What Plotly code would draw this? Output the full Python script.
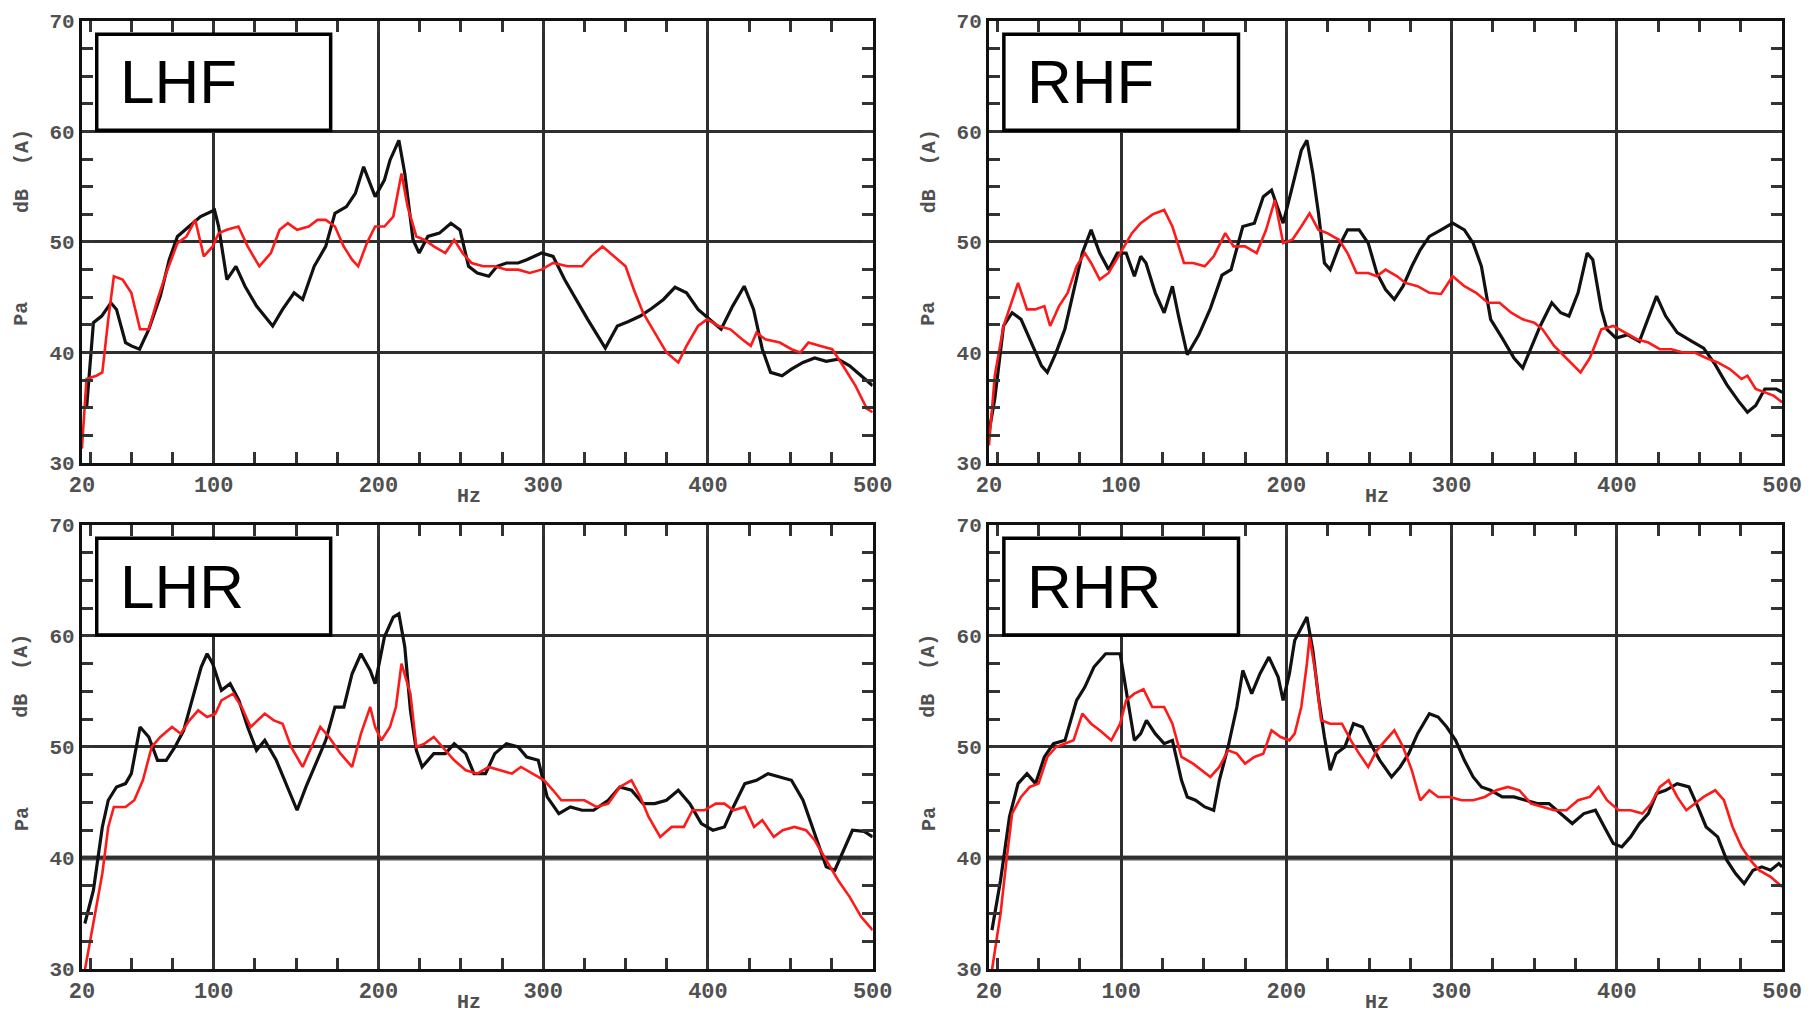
import plotly.graph_objects as go

# ---------------- data ----------------
LHF_black_hz = [22.8, 27, 32, 37.6, 41, 46.5, 50, 55, 60.6, 67.6, 73, 78, 85, 92, 100.5, 103, 108, 113.5, 119, 126, 135.8, 141.8, 148.8, 154, 161, 168, 173.6, 180.6, 186, 191, 198, 203.6, 207, 212.4, 216, 221, 224.7, 230, 237, 244, 249.5, 254.7, 260, 267, 272, 277.7, 284.8, 290, 299, 306, 313, 320, 327, 337.7, 345, 351.8, 358.9, 366, 373, 380, 387, 394, 401, 408, 415, 422, 427.7, 433, 438, 445, 450.7, 457.7, 464.8, 471.8, 479, 486, 493, 500]
LHF_black_db = [34.9, 42.7, 43.3, 44.5, 43.9, 40.9, 40.6, 40.3, 42.1, 45.1, 48.4, 50.5, 51.4, 52.3, 52.9, 51.4, 46.6, 47.8, 46.0, 44.2, 42.4, 43.9, 45.4, 44.8, 47.8, 49.6, 52.6, 53.2, 54.4, 56.8, 54.1, 55.6, 57.4, 59.2, 56.2, 50.2, 49.0, 50.5, 50.8, 51.7, 51.1, 47.8, 47.2, 46.9, 47.8, 48.1, 48.1, 48.4, 49.0, 48.7, 46.6, 44.8, 43.0, 40.4, 42.4, 42.8, 43.3, 44.0, 44.8, 45.9, 45.4, 43.9, 43.0, 42.1, 44.2, 46.0, 43.9, 40.3, 38.2, 37.9, 38.5, 39.1, 39.5, 39.2, 39.4, 38.8, 37.9, 37.0]
LHF_red_hz = [20, 22.8, 28.8, 32.4, 36, 39.4, 44.7, 50, 55.3, 60.6, 65.9, 71.2, 78, 83.5, 88.8, 94, 99.4, 103, 108, 115, 120.6, 127.7, 134.7, 140, 145, 150.6, 157.7, 163, 168, 173.6, 178.9, 184, 187.7, 193, 198, 203.6, 209, 214, 217.7, 223, 228, 233.6, 240.6, 246, 251, 256.5, 263.6, 270.6, 277.7, 284.8, 291.8, 299, 306, 314.8, 323.6, 329, 336, 343, 350, 355, 360.6, 367.7, 374.8, 382, 387, 394, 399.5, 406.5, 413.6, 420.7, 426, 429.5, 434.8, 443.6, 450.7, 456, 461, 468.3, 475.4, 482, 489.5, 496.5, 500]
LHF_red_db = [31.3, 37.6, 37.9, 38.2, 43.0, 46.9, 46.6, 45.4, 42.1, 42.1, 44.8, 47.2, 49.9, 50.5, 52.0, 48.7, 49.6, 50.8, 51.1, 51.4, 49.6, 47.8, 49.0, 51.1, 51.7, 51.1, 51.4, 52.0, 52.0, 51.4, 49.6, 48.4, 47.8, 49.9, 51.4, 51.4, 52.3, 56.2, 53.2, 50.5, 50.2, 49.6, 49.0, 50.2, 49.0, 48.1, 47.8, 47.8, 47.5, 47.5, 47.2, 47.5, 48.1, 47.8, 47.8, 48.7, 49.6, 48.7, 47.8, 45.7, 43.6, 41.8, 40.0, 39.1, 40.6, 42.4, 43.0, 42.4, 42.1, 41.2, 40.6, 41.8, 41.2, 40.9, 40.3, 40.0, 40.9, 40.6, 40.3, 38.8, 37.0, 34.9, 34.6]

RHF_black_hz = [20, 23.5, 28.8, 34, 39.4, 46.5, 51.8, 55.3, 60.6, 65.9, 71, 76.5, 81.8, 87, 92.4, 97.7, 103, 108, 111.8, 115, 120.6, 126, 131, 134.7, 140, 147, 154, 161, 166.5, 173.6, 180.6, 186, 191, 198, 203.6, 209, 212.4, 216, 219.4, 223, 226.5, 231.8, 237, 244, 249.5, 254.7, 260, 265.3, 270.6, 275.9, 281, 286.5, 293.6, 300.6, 307.7, 313, 318, 323.6, 330.6, 337.7, 343, 348, 353.6, 360.6, 366, 371, 376.5, 382, 385.4, 390.6, 394, 399.5, 406.5, 413.6, 418.9, 424, 429.5, 436.5, 445.4, 452.5, 459.5, 466.5, 473.6, 479, 484, 489.5, 496.5, 500]
RHF_black_db = [32.8, 35.8, 42.4, 43.6, 43.0, 40.6, 38.8, 38.2, 40.0, 42.1, 45.4, 49.0, 51.1, 49.0, 47.5, 49.0, 49.0, 46.9, 48.7, 48.1, 45.4, 43.6, 46.0, 43.3, 39.8, 41.6, 44.0, 47.0, 47.5, 51.4, 51.7, 54.1, 54.7, 51.7, 55.0, 58.3, 59.2, 56.2, 52.6, 48.1, 47.5, 49.6, 51.1, 51.1, 49.9, 47.2, 45.7, 44.8, 46.0, 47.8, 49.3, 50.5, 51.1, 51.7, 51.1, 49.9, 47.8, 43.0, 41.3, 39.5, 38.6, 40.4, 42.4, 44.5, 43.6, 43.3, 45.4, 49.0, 48.4, 43.9, 42.1, 41.3, 41.6, 41.0, 43.0, 45.1, 43.3, 41.8, 41.0, 40.4, 38.9, 37.1, 35.6, 34.6, 35.2, 36.7, 36.7, 36.4]
RHF_red_hz = [20, 23.5, 28.8, 34, 37.6, 43, 48, 53.5, 57, 62.4, 67.6, 73, 78, 81.8, 87, 92.4, 99.4, 106.5, 111.8, 119, 126, 131, 138, 143.5, 150.6, 156, 163, 168, 175, 182, 187.7, 193, 198, 203.6, 209, 214, 219.4, 224.7, 231.8, 237, 242.4, 249.5, 254.7, 260, 267, 272, 279.4, 286.5, 293.6, 300.6, 307.7, 314.8, 322, 329, 336, 343, 350, 355, 362, 369.4, 378, 383.6, 390.6, 397.8, 404.8, 412, 419, 426, 433, 440, 447, 454, 461, 468.3, 475.4, 479, 484, 489.5, 494.8, 500]
RHF_red_db = [31.6, 37.9, 42.4, 44.8, 46.3, 43.9, 43.9, 44.2, 42.4, 44.2, 45.4, 47.8, 49.0, 48.1, 46.6, 47.2, 49.0, 50.8, 51.7, 52.5, 52.9, 51.4, 48.1, 48.1, 47.8, 48.7, 50.8, 49.6, 49.6, 49.0, 51.1, 53.8, 49.9, 50.2, 51.4, 52.6, 51.1, 50.8, 50.2, 49.0, 47.2, 47.2, 46.9, 47.5, 46.9, 46.3, 46.0, 45.4, 45.3, 46.9, 46.0, 45.4, 44.5, 44.5, 43.6, 43.0, 42.7, 42.1, 40.6, 39.5, 38.2, 39.5, 42.1, 42.4, 41.8, 41.2, 40.9, 40.3, 40.3, 40.0, 40.0, 39.5, 39.1, 38.5, 37.6, 37.9, 36.7, 36.4, 36.1, 35.5]

LHR_black_hz = [21.8, 27, 32.4, 36, 41, 46.5, 50, 55.3, 60.6, 65.9, 71.2, 76.5, 81.8, 87, 92.4, 96, 99.4, 104.7, 110, 115.3, 120.6, 126, 131, 138, 145, 150.6, 156, 163, 168, 173.6, 179, 184, 189.4, 195, 198, 203.6, 209, 212.4, 216, 219.4, 223, 226.5, 233.6, 240.6, 246, 253, 258, 265, 270.6, 277.7, 284.8, 290, 297, 302.4, 309.5, 316.5, 323.6, 330.6, 339.5, 346.5, 353.6, 360.6, 367.7, 374.8, 382, 389, 396, 403, 410, 415.4, 422.4, 429.5, 436.5, 443.6, 450.7, 457.7, 464.8, 471.8, 477, 482.4, 487.7, 494.8, 500]
LHR_black_db = [34.1, 37.1, 42.8, 45.2, 46.4, 46.7, 47.6, 51.8, 50.9, 48.8, 48.8, 50.0, 51.5, 54.2, 57.2, 58.4, 57.5, 55.1, 55.7, 54.2, 51.8, 49.7, 50.6, 48.8, 46.4, 44.3, 46.4, 48.8, 50.6, 53.6, 53.6, 56.6, 58.4, 56.9, 55.7, 59.9, 61.7, 62.0, 59.0, 53.3, 49.7, 48.2, 49.4, 49.4, 50.3, 49.4, 47.6, 47.6, 49.4, 50.3, 50.0, 49.1, 48.8, 45.5, 44.0, 44.6, 44.3, 44.3, 45.2, 46.4, 46.1, 44.9, 44.9, 45.2, 46.1, 44.9, 43.1, 42.5, 42.8, 44.6, 46.7, 47.0, 47.6, 47.3, 47.0, 45.2, 42.2, 39.2, 38.9, 40.7, 42.5, 42.4, 41.9]
LHR_red_hz = [21.8, 27, 32.4, 36, 39.4, 46.5, 51.8, 57, 62.4, 67.6, 74.7, 80, 85.3, 90.6, 96, 101, 104.7, 111.8, 117, 122.4, 131, 136.5, 141.8, 147, 154, 159.4, 164.7, 170, 177, 184, 189.4, 195, 198, 201.8, 207, 210.6, 214, 219.4, 223, 228, 233.6, 238.9, 246, 253, 260, 267, 274, 281, 286.5, 293.6, 300.6, 306, 311, 318, 325, 332.4, 339.5, 346.5, 353.6, 359, 364, 371, 378, 385.4, 390.6, 397.8, 404.8, 410, 415.4, 422.4, 428, 433, 440, 445.4, 452.5, 459.5, 464.8, 471.8, 479, 486, 493, 500]
LHR_red_db = [29.9, 34.1, 38.6, 42.8, 44.6, 44.6, 45.2, 47.0, 50.0, 50.9, 51.8, 51.2, 52.4, 53.3, 52.7, 53.0, 54.2, 54.8, 53.6, 51.8, 53.0, 52.4, 52.1, 50.0, 48.2, 50.0, 51.8, 50.9, 49.4, 48.2, 51.2, 53.6, 51.8, 50.6, 51.8, 53.6, 57.5, 54.8, 50.0, 50.3, 50.9, 50.0, 48.8, 47.9, 47.6, 48.2, 47.9, 47.6, 48.2, 47.6, 47.0, 46.1, 45.2, 45.2, 45.2, 44.6, 44.9, 46.4, 47.0, 45.5, 43.7, 41.9, 42.8, 42.8, 44.3, 44.3, 44.9, 44.9, 44.3, 44.6, 42.8, 43.4, 41.9, 42.5, 42.8, 42.5, 41.6, 39.8, 38.0, 36.5, 34.7, 33.5]

RHR_black_hz = [21.8, 27, 32.4, 37.6, 43, 48.2, 53.5, 59, 66, 73, 78, 83.5, 90.6, 99.4, 103, 108, 111.8, 115.3, 120.6, 126, 131, 136.5, 140, 145, 150.6, 156, 159.4, 164.7, 170, 173.6, 179, 184, 189.4, 195, 198, 201.8, 205, 209, 212.4, 216, 219.4, 223, 226.5, 230, 235.3, 240.6, 246, 251, 256.5, 263.6, 268.8, 274, 279.4, 286.5, 291.8, 297, 302.4, 307.7, 313, 318, 323.6, 330.6, 337.7, 344.7, 351.8, 358.9, 366, 373, 380, 387, 392.4, 397.8, 403, 408.3, 413.6, 419, 424, 429.5, 436.5, 443.6, 449, 454, 461, 466.5, 471.8, 477, 482.4, 487.7, 493, 498, 500]
RHR_black_db = [33.5, 38.0, 43.7, 46.7, 47.6, 46.7, 49.1, 50.3, 50.6, 54.2, 55.4, 57.2, 58.4, 58.4, 55.1, 50.6, 51.2, 52.4, 51.2, 50.3, 50.6, 47.0, 45.5, 45.2, 44.6, 44.3, 47.0, 50.0, 53.6, 56.9, 54.8, 56.6, 58.1, 56.3, 54.2, 56.6, 59.6, 60.8, 61.7, 58.7, 54.5, 50.9, 47.9, 49.4, 50.0, 52.1, 51.8, 50.3, 48.8, 47.3, 48.2, 49.4, 51.2, 53.0, 52.7, 51.8, 50.6, 48.8, 47.3, 46.4, 46.1, 45.5, 45.5, 45.2, 44.9, 44.9, 44.0, 43.1, 44.0, 44.3, 42.8, 41.3, 41.0, 41.9, 43.1, 44.0, 45.8, 46.1, 46.7, 46.4, 44.6, 42.8, 41.9, 39.8, 38.6, 37.7, 38.9, 39.2, 38.9, 39.5, 39.2]
RHR_red_hz = [21.8, 27, 30.6, 34, 39.4, 44.7, 50, 55.3, 60.6, 66, 71.2, 76.5, 81.8, 87, 94, 99.4, 103, 108, 113.5, 118.8, 126, 131, 136.5, 143.5, 148.8, 154, 159.4, 164.7, 170, 175, 180.6, 186, 191, 196.5, 201.8, 205, 209, 212.4, 214, 217.7, 221, 226.5, 233.6, 239, 244, 249.5, 254.7, 260, 265.3, 270.6, 275.9, 281, 286.5, 291.8, 299, 306, 313, 320, 327, 334, 341, 348, 355, 362, 369.4, 376.5, 383.6, 388.9, 394, 401, 408.3, 415.4, 420.7, 426, 431.3, 436.5, 442, 447, 452.5, 459.5, 464.8, 470, 475.4, 480.8, 486, 493, 500]
RHR_red_db = [29.9, 35.0, 39.8, 44.0, 45.5, 46.4, 46.7, 49.1, 50.0, 50.3, 50.6, 53.0, 52.1, 51.5, 50.6, 52.1, 54.2, 54.8, 55.2, 53.6, 53.6, 52.1, 49.1, 48.5, 47.9, 47.3, 48.2, 49.7, 49.4, 48.5, 49.1, 49.4, 51.5, 50.9, 50.6, 51.2, 53.6, 57.5, 59.9, 56.6, 52.4, 52.1, 52.1, 50.6, 49.4, 48.2, 49.7, 50.6, 51.5, 50.0, 47.9, 45.2, 46.1, 45.5, 45.5, 45.2, 45.2, 45.5, 46.1, 46.4, 46.1, 44.9, 44.6, 44.3, 44.3, 45.2, 45.5, 46.4, 45.2, 44.3, 44.3, 44.0, 44.9, 46.4, 47.0, 45.5, 44.3, 44.9, 45.5, 46.1, 45.2, 42.8, 41.0, 39.8, 38.9, 38.3, 37.4]

panel_names = ["LHF", "RHF", "LHR", "RHR"]
x_ticks = [20, 100, 200, 300, 400, 500]
y_ticks = [30, 40, 50, 60, 70]
x_minor = [25, 50, 75, 125, 150, 175, 225, 250, 275, 325, 350, 375, 425, 450, 475]
y_minor = [32.5, 35, 37.5, 42.5, 45, 47.5, 52.5, 55, 57.5, 62.5, 65, 67.5]
x_title = "Hz"
y_title_upper = "dB  (A)"
y_title_lower = "Pa"

black_series = [(LHF_black_hz, LHF_black_db), (RHF_black_hz, RHF_black_db),
                (LHR_black_hz, LHR_black_db), (RHR_black_hz, RHR_black_db)]
red_series = [(LHF_red_hz, LHF_red_db), (RHF_red_hz, RHF_red_db),
              (LHR_red_hz, LHR_red_db), (RHR_red_hz, RHR_red_db)]

# ---------------- layout ----------------
W, H = 1820, 1017
x_domains = [[0.0450, 0.4795], [0.5434, 0.9792], [0.0450, 0.4795], [0.5434, 0.9792]]
y_domains = [[0.5447, 0.9794], [0.5447, 0.9794], [0.0472, 0.4838], [0.0472, 0.4838]]

label_grey = "#505050"
xtick_font = dict(family="Liberation Mono", size=22, color=label_grey, weight="bold")
ytick_font = dict(family="Liberation Mono", size=21, color=label_grey, weight="bold")
title_font = dict(family="Liberation Mono", size=20, color=label_grey, weight="bold")

fig = go.Figure()
layout = dict(width=W, height=H, autosize=False,
              margin=dict(l=0, r=0, t=0, b=0, pad=0, autoexpand=False),
              paper_bgcolor="white", plot_bgcolor="white", showlegend=False)
shapes = []
annotations = []

for i in range(4):
    n = "" if i == 0 else str(i + 1)
    xr, yr = "x" + n, "y" + n
    bx, by = black_series[i]
    rx, ry = red_series[i]
    fig.add_trace(go.Scatter(x=bx, y=by, mode="lines", xaxis=xr, yaxis=yr,
                             line=dict(color="#111111", width=3.2)))
    fig.add_trace(go.Scatter(x=rx, y=ry, mode="lines", xaxis=xr, yaxis=yr,
                             line=dict(color="#ff1a1a", width=2.6)))
    common = dict(showgrid=True, gridcolor="#2e2e2e", gridwidth=2.6, automargin=False,
                  showline=True, linecolor="#111111", linewidth=3, mirror="allticks",
                  ticks="inside", ticklen=11, tickwidth=2.5, tickcolor="#333333",
                  zeroline=False, fixedrange=True)
    minor_style = dict(ticks="inside", ticklen=11, tickwidth=2.5, tickcolor="#333333", showgrid=False)
    layout["xaxis" + n] = dict(domain=x_domains[i], anchor=yr, range=[20, 500],
                               tickmode="array", tickvals=x_ticks, tickfont=xtick_font,
                               minor=dict(tickmode="array", tickvals=x_minor, **minor_style),
                               **common)
    layout["yaxis" + n] = dict(domain=y_domains[i], anchor=xr, range=[30, 70],
                               tickmode="array", tickvals=y_ticks, tickfont=ytick_font,
                               minor=dict(tickmode="array", tickvals=y_minor, **minor_style),
                               **common)
    if i >= 2:
        shapes.append(dict(type="line", xref=xr, yref=yr, x0=20, x1=500, y0=40, y1=40,
                           line=dict(color="#555555", width=5), layer="below"))
    # label box
    shapes.append(dict(type="rect", xref=xr, yref=yr, x0=29, x1=171, y0=60.1, y1=68.8,
                       line=dict(color="black", width=3.5), fillcolor="white", layer="above"))
    annotations.append(dict(xref=xr, yref=yr, x=42, y=64.5, text=panel_names[i],
                            showarrow=False, xanchor="left", yanchor="middle",
                            font=dict(family="Liberation Sans", size=62, color="black")))
    # axis titles
    annotations.append(dict(xref=xr, yref="paper", x=255, y=y_domains[i][0] - 0.033, text=x_title,
                            showarrow=False, xanchor="center", yanchor="middle", font=title_font))
    xleft = x_domains[i][0] - 0.033
    annotations.append(dict(xref="paper", yref=yr, x=xleft, y=43.5, text=y_title_lower, textangle=-90,
                            showarrow=False, xanchor="center", yanchor="middle", font=title_font))
    annotations.append(dict(xref="paper", yref=yr, x=xleft, y=56.4, text=y_title_upper, textangle=-90,
                            showarrow=False, xanchor="center", yanchor="middle", font=title_font))

layout["shapes"] = shapes
layout["annotations"] = annotations
fig.update_layout(**layout)
fig.write_html("out.html")
